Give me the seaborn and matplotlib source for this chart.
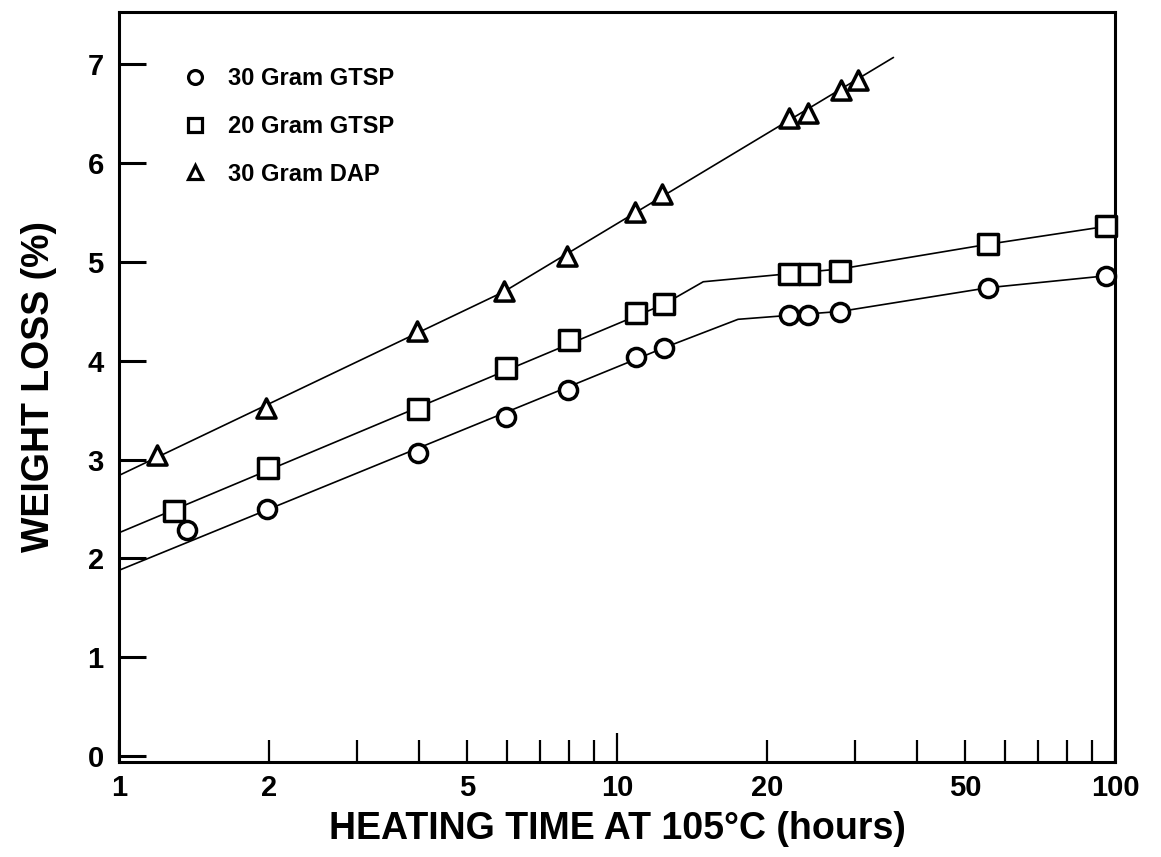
import matplotlib
matplotlib.use("Agg")
import matplotlib.pyplot as plt
from matplotlib.lines import Line2D
from matplotlib.ticker import FixedLocator, NullFormatter
import seaborn as sns
import pandas as pd

# Measured points: heating time (h) vs. weight loss (%)
gtsp30_x = [1.37, 1.98, 3.98, 5.98, 7.97, 10.9, 12.4, 22.1, 24.2, 28.1, 55.7, 95.9]
gtsp30_y = [2.29, 2.50, 3.07, 3.43, 3.70, 4.04, 4.13, 4.46, 4.46, 4.49, 4.74, 4.86]
gtsp20_x = [1.29, 1.99, 3.98, 5.98, 8.0, 10.9, 12.4, 22.1, 24.3, 28.1, 55.7, 95.9]
gtsp20_y = [2.48, 2.92, 3.51, 3.93, 4.21, 4.48, 4.57, 4.88, 4.88, 4.91, 5.18, 5.36]
dap30_x = [1.19, 1.97, 3.96, 5.93, 7.94, 10.85, 12.3, 22.1, 24.2, 28.2, 30.5]
dap30_y = [3.05, 3.52, 4.30, 4.71, 5.06, 5.51, 5.69, 6.46, 6.51, 6.74, 6.84]

# Smoothed trend lines drawn through each series
gtsp30_fit_x = [1.0, 12.4, 17.5, 28.1, 55.7, 95.9]
gtsp30_fit_y = [1.88, 4.13, 4.42, 4.50, 4.74, 4.86]
gtsp20_fit_x = [1.0, 12.4, 14.9, 28.1, 55.7, 95.9]
gtsp20_fit_y = [2.26, 4.57, 4.80, 4.93, 5.18, 5.36]
dap30_fit_x = [1.0, 5.93, 35.9]
dap30_fit_y = [2.84, 4.70, 7.07]

labels = ["30 Gram GTSP", "20 Gram GTSP", "30 Gram DAP"]
x_ticks = [1, 2, 5, 10, 20, 50, 100]
x_minor = [3, 4, 6, 7, 8, 9, 30, 40, 60, 70, 80, 90]
y_ticks = [0, 1, 2, 3, 4, 5, 6, 7]

sns.set_theme(style="white")
plt.rcParams["font.family"] = ["Liberation Sans", "DejaVu Sans"]
plt.rcParams["font.weight"] = "bold"
plt.rcParams["text.color"] = "black"

fig = plt.figure(figsize=(11.61, 8.57), dpi=100)
ax = fig.add_axes([119 / 1161, 1 - 762 / 857, 996 / 1161, 750 / 857])

series = [
    (gtsp30_x, gtsp30_y, gtsp30_fit_x, gtsp30_fit_y, "o", 170),
    (gtsp20_x, gtsp20_y, gtsp20_fit_x, gtsp20_fit_y, "s", 200),
    (dap30_x, dap30_y, dap30_fit_x, dap30_fit_y, "^", 190),
]

for (px, py, fx, fy, mk, sz), lab in zip(series, labels):
    fit = pd.DataFrame({"t": fx, "w": fy})
    sns.lineplot(data=fit, x="t", y="w", ax=ax, color="black", lw=1.2,
                 sort=False, estimator=None, zorder=2)
    pts = pd.DataFrame({"t": px, "w": py})
    sns.scatterplot(data=pts, x="t", y="w", ax=ax, marker=mk, s=sz,
                    facecolor="white", edgecolor="black", linewidth=2.5,
                    zorder=3, clip_on=False)

ax.set_xscale("log")
ax.set_xlim(1, 100)
ax.set_ylim(-0.06, 7.53)

ax.xaxis.set_major_locator(FixedLocator(x_ticks))
ax.xaxis.set_minor_locator(FixedLocator(x_minor))
ax.xaxis.set_minor_formatter(NullFormatter())
ax.set_xticklabels([str(v) for v in x_ticks])
ax.set_yticks(y_ticks)
ax.set_yticklabels([str(v) for v in y_ticks])

ax.tick_params(axis="x", which="both", direction="in", length=16, width=1.6,
               color="black", bottom=True, top=False, pad=9,
               labelsize=21, labelcolor="black")
ax.tick_params(axis="y", which="major", direction="in", length=19.5, width=2.2,
               color="black", left=True, right=False, pad=11,
               labelsize=21, labelcolor="black")
for t in ax.xaxis.get_major_ticks():
    if t.get_loc() == 10:
        t.tick1line.set_markersize(21)

for sp in ax.spines.values():
    sp.set_visible(True)
    sp.set_color("black")
    sp.set_linewidth(2.2)

ax.set_xlabel("HEATING TIME AT 105°C (hours)", fontsize=27, fontweight="bold",
              color="black", labelpad=6)
ax.set_ylabel("WEIGHT LOSS (%)", fontsize=27, fontweight="bold",
              color="black", labelpad=22)

handles = [
    Line2D([], [], ls="none", marker=m, markersize=ms, markerfacecolor="white",
           markeredgecolor="black", markeredgewidth=2.3)
    for m, ms in [("o", 10), ("s", 10.5), ("^", 10)]
]
leg = ax.legend(handles, labels, loc="upper left", bbox_to_anchor=(0.045, 0.955),
                frameon=False, handlelength=0.8, handletextpad=1.0,
                labelspacing=1.05, prop={"size": 17, "weight": "bold"})
for txt in leg.get_texts():
    txt.set_color("black")

fig.savefig("out.png", dpi=100)
